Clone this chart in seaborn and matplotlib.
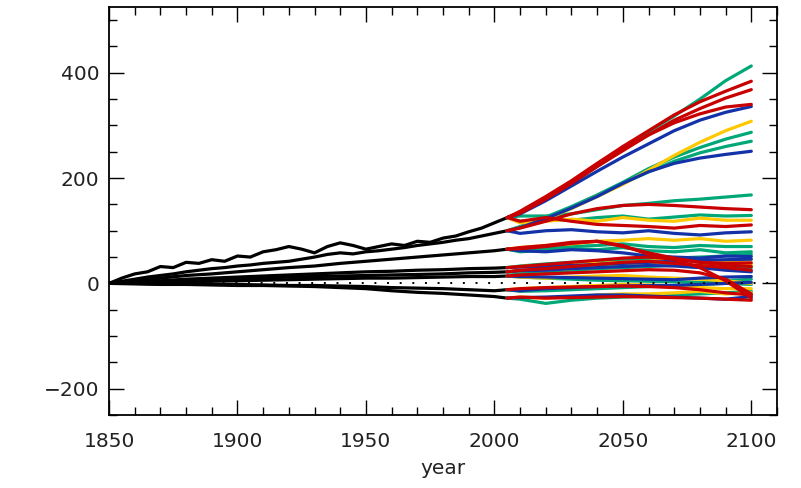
import numpy as np
import pandas as pd
import matplotlib
matplotlib.use("Agg")
import matplotlib.pyplot as plt
import seaborn as sns
from matplotlib.ticker import MultipleLocator

# ---- historical runs (1850-2005), one list per model ----
hist_years_fine = [1850, 1855, 1860, 1865, 1870, 1875, 1880, 1885, 1890, 1895,
                   1900, 1905, 1910, 1915, 1920, 1925, 1930, 1935, 1940, 1945,
                   1950, 1955, 1960, 1965, 1970, 1975, 1980, 1985, 1990, 1995,
                   2000, 2005]
hist_years = [1850, 1860, 1870, 1880, 1890, 1900, 1910, 1920, 1930,
              1940, 1950, 1960, 1970, 1980, 1990, 2000, 2005]

hist_1 = [0, 10, 18, 22, 32, 30, 40, 38, 45, 42, 52, 50, 60, 64, 70, 65,
          58, 70, 77, 72, 65, 70, 75, 72, 80, 78, 86, 90, 98, 105, 115, 125]
hist_2 = [0, 4, 8, 12, 15, 18, 22, 25, 28, 30, 33, 35, 38, 40, 42, 46,
          50, 55, 58, 56, 60, 62, 65, 68, 72, 75, 78, 82, 85, 90, 95, 100]
hist_3 = [0, 5, 10, 15, 18, 22, 26, 30, 33, 38, 42, 46, 50, 54, 58, 62, 65]
hist_4 = [0, 3, 5, 8, 10, 12, 14, 16, 18, 20, 22, 23, 25, 26, 28, 29, 30]
hist_5 = [0, 2, 4, 6, 8, 9, 10, 12, 13, 14, 15, 16, 17, 18, 20, 21, 22]
hist_6 = [0, 1, 2, 3, 4, 5, 6, 7, 8, 9, 10, 10, 11, 12, 13, 13, 14]
hist_7 = [0, 0, -1, -1, -2, -2, -3, -4, -4, -5, -6, -8, -9, -10, -12, -14, -12]
hist_8 = [0, -1, -2, -2, -3, -4, -4, -5, -6, -8, -10, -14, -17, -19, -22, -25, -28]

# ---- scenario projections (2005-2100) ----
proj_years = [2005, 2010, 2020, 2030, 2040, 2050, 2060, 2070, 2080, 2090, 2100]

green_runs = [
    [125, 135, 160, 190, 222, 255, 288, 318, 350, 385, 413],
    [100, 108, 126, 146, 168, 192, 218, 240, 258, 274, 287],
    [100, 107, 124, 144, 166, 190, 212, 232, 248, 260, 270],
    [125, 128, 128, 132, 140, 148, 152, 157, 160, 164, 168],
    [125, 118, 122, 120, 125, 128, 122, 126, 130, 128, 129],
    [65, 62, 66, 70, 72, 75, 70, 68, 72, 70, 70],
    [65, 60, 63, 66, 64, 68, 62, 60, 64, 58, 60],
    [30, 33, 37, 40, 42, 44, 46, 48, 50, 52, 55],
    [22, 20, 22, 25, 28, 30, 32, 35, 30, 28, 30],
    [14, 12, 10, 8, 6, 5, 4, 3, 2, 5, 8],
    [-12, -15, -14, -12, -10, -8, -6, -4, -2, 0, -2],
    [-28, -30, -38, -32, -28, -26, -24, -22, -20, -18, -15],
]

yellow_runs = [
    [100, 106, 122, 142, 165, 188, 215, 243, 268, 290, 308],
    [125, 115, 118, 122, 118, 125, 120, 118, 124, 120, 120],
    [65, 68, 72, 75, 80, 82, 85, 82, 85, 80, 82],
    [30, 32, 34, 36, 38, 40, 42, 45, 44, 42, 45],
    [22, 24, 26, 28, 32, 35, 38, 36, 33, 35, 35],
    [14, 12, 10, 12, 14, 15, 12, 10, 8, 5, 0],
    [-12, -10, -8, -6, -4, -2, -3, -5, -8, -10, -10],
    [-28, -26, -28, -25, -22, -20, -20, -18, -15, -20, -18],
]

blue_runs = [
    [125, 132, 157, 185, 213, 240, 265, 290, 310, 325, 336],
    [100, 106, 123, 143, 165, 190, 212, 228, 238, 245, 251],
    [100, 95, 100, 102, 98, 96, 100, 95, 92, 96, 98],
    [65, 62, 60, 64, 62, 58, 52, 50, 48, 52, 51],
    [30, 31, 32, 34, 36, 38, 40, 42, 44, 45, 46],
    [22, 24, 25, 28, 30, 32, 34, 33, 30, 25, 22],
    [14, 13, 12, 11, 10, 9, 8, 7, 10, 12, 13],
    [-12, -14, -10, -8, -6, -5, -4, -4, -2, 0, 2],
    [-28, -27, -26, -24, -22, -22, -24, -26, -28, -30, -25],
]

red_runs = [
    [125, 137, 165, 195, 228, 260, 290, 320, 345, 365, 384],
    [125, 133, 160, 190, 222, 252, 282, 310, 332, 352, 368],
    [125, 134, 162, 192, 225, 255, 282, 305, 322, 335, 340],
    [100, 105, 118, 132, 142, 148, 150, 148, 145, 142, 140],
    [125, 118, 125, 118, 112, 110, 108, 105, 110, 108, 111],
    [65, 68, 72, 78, 80, 70, 58, 48, 40, 38, 39],
    [65, 66, 70, 76, 80, 72, 55, 45, 30, 5, -28],
    [30, 32, 36, 40, 44, 48, 50, 46, 40, 35, 32],
    [22, 25, 28, 32, 36, 40, 42, 38, 34, 30, 25],
    [14, 16, 18, 20, 22, 24, 26, 25, 20, 8, -20],
    [-12, -10, -8, -7, -6, -5, -6, -8, -12, -18, -22],
    [-28, -26, -28, -27, -26, -25, -26, -27, -28, -30, -32],
]

x_ticks = [1850, 1900, 1950, 2000, 2050, 2100]
y_ticks = [-200, 0, 200, 400]
y_tick_labels = ["\u2212200", "0", "200", "400"]

# ---- long table for seaborn ----
rows = []
hist_runs = [(hist_years_fine, hist_1), (hist_years_fine, hist_2),
             (hist_years, hist_3), (hist_years, hist_4), (hist_years, hist_5),
             (hist_years, hist_6), (hist_years, hist_7), (hist_years, hist_8)]
for i, (yrs, run) in enumerate(hist_runs):
    for yr, v in zip(yrs, run):
        rows.append(("hist", f"h{i}", yr, v))
for name, runs in [("green", green_runs), ("yellow", yellow_runs),
                   ("blue", blue_runs), ("red", red_runs)]:
    for i, run in enumerate(runs):
        for yr, v in zip(proj_years, run):
            rows.append((name, f"{name}{i}", yr, v))
df = pd.DataFrame(rows, columns=["scenario", "run", "year", "value"])

palette = {"hist": "#000000", "green": "#00a878", "yellow": "#ffc800",
           "blue": "#1432a8", "red": "#c80000"}

sns.set_style("ticks")
plt.rcParams["font.family"] = ["DejaVu Sans"]

fig = plt.figure(figsize=(8.01, 4.88), dpi=100)
ax = fig.add_axes([109 / 801, 1 - 415 / 488, (777 - 109) / 801, (415 - 7) / 488])

sns.lineplot(data=df, x="year", y="value", hue="scenario", units="run",
             estimator=None, palette=palette,
             hue_order=["hist", "green", "yellow", "blue", "red"],
             linewidth=2.3, legend=False, ax=ax)

ax.axhline(0, color="black", linewidth=1.4, linestyle=(0, (1, 5.5)), zorder=5)

ax.set_xlim(1850, 2110)
ax.set_ylim(-250, 525)
ax.set_xticks(x_ticks)
ax.set_yticks(y_ticks)
ax.set_yticklabels(y_tick_labels)
ax.xaxis.set_minor_locator(MultipleLocator(10))
ax.yaxis.set_minor_locator(MultipleLocator(50))
ax.tick_params(which="both", direction="in", top=True, right=True,
               width=1.0, color="black", labelsize=14.5, labelcolor="#222222")
ax.tick_params(which="major", length=10.5)
ax.tick_params(which="minor", length=5.5)
ax.tick_params(axis="x", which="major", pad=12)
ax.tick_params(axis="y", which="major", pad=7)
for s in ax.spines.values():
    s.set_linewidth(1.3)
    s.set_color("black")

ax.set_xlabel("year", fontsize=14.5, color="#222222", labelpad=6)
ax.set_ylabel("")

fig.savefig("out.png", dpi=100)
